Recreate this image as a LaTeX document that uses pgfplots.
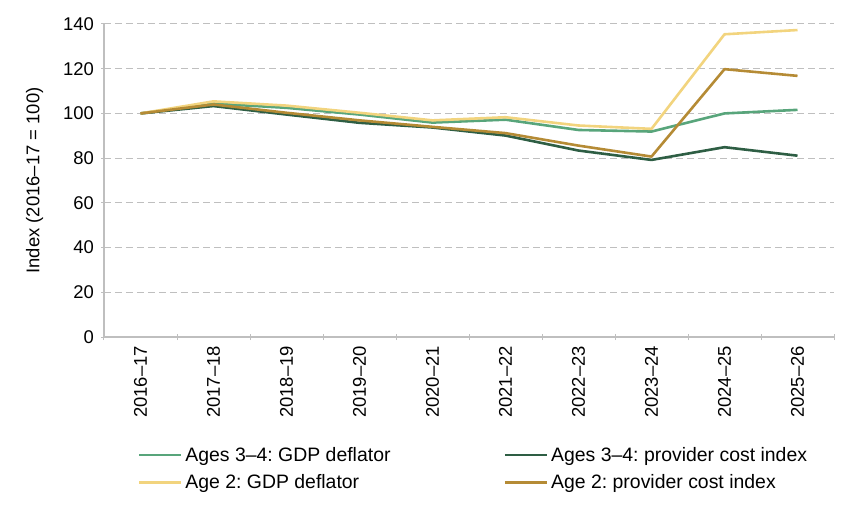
\documentclass[border=0pt]{standalone}
\usepackage{pgfplots}
\pgfplotsset{compat=1.18}
\usepackage{fontspec}
\setmainfont{Liberation Sans}
\frenchspacing
\definecolor{cgreen}{HTML}{58A57B}
\definecolor{cdark}{HTML}{2E5E44}
\definecolor{cyellow}{HTML}{F2D47E}
\definecolor{cbrown}{HTML}{B58B35}
\definecolor{cgrid}{HTML}{BFBFBF}
\begin{document}
\begin{tikzpicture}
\useasboundingbox (-104bp,-176bp) rectangle (744bp,337bp);
\begin{axis}[
  at={(0,0)}, anchor=south west,
  scale only axis, width=730bp, height=313bp,
  font=\fontsize{18.5}{21}\selectfont\frenchspacing,
  /pgf/number format/assume math mode=true,
  xmin=-0.5, xmax=9.5, ymin=0, ymax=140,
  ytick={0,20,...,140},
  xtick={0,...,9},
  xticklabels={2016--17,2017--18,2018--19,2019--20,2020--21,2021--22,2022--23,2023--24,2024--25,2025--26},
  minor xtick={-0.5,0.5,...,9.5},
  major x tick style={draw=none},
  minor tick length=6bp,
  major tick length=5bp,
  tick align=outside,
  axis x line=bottom, axis y line=left,
  axis line style={-, draw=cgrid, line width=1.2bp},
  tick style={draw=cgrid, line width=1bp},
  ymajorgrids,
  major grid style={dashed, dash pattern=on 7bp off 4bp, draw=cgrid, line width=1bp},
  xticklabel style={rotate=90, anchor=east, yshift=0bp, xshift=-3bp},
  yticklabel style={anchor=east, xshift=-4bp},
  ylabel={Index (2016--17 = 100)},
  ylabel style={at={(axis description cs:-0.095,0.5)}, anchor=center},
  legend columns=2,
  legend cell align=left,
  legend style={draw=none, fill=none, inner sep=0pt,
    at={(axis description cs:0.046,-0.345)}, anchor=north west,
    font=\fontsize{19.5}{22}\selectfont\frenchspacing,
    row sep=8bp,
    /tikz/every odd column/.append style={column sep=1bp},
    /tikz/every even column/.append style={column sep=111bp}},
  legend image code/.code={\draw[#1] (0bp,0bp) -- (42bp,0bp);},
  every axis plot/.append style={line width=2.6bp, line join=round},
]
\addplot[cgreen, mark=none] coordinates {(0,100) (1,104.4) (2,102.5) (3,99.5) (4,95.9) (5,97.2) (6,92.6) (7,91.9) (8,100) (9,101.6)};
\addlegendentry{Ages 3--4: GDP deflator}
\addplot[cdark, mark=none] coordinates {(0,100) (1,103.3) (2,99.5) (3,95.8) (4,93.7) (5,90.1) (6,83.4) (7,79.2) (8,84.9) (9,81.1)};
\addlegendentry{Ages 3--4: provider cost index}
\addplot[cyellow, mark=none] coordinates {(0,100) (1,105.4) (2,103.5) (3,100.3) (4,96.9) (5,98.3) (6,94.6) (7,93.1) (8,135.4) (9,137.3)};
\addlegendentry{Age 2: GDP deflator}
\addplot[cbrown, mark=none] coordinates {(0,100) (1,104) (2,100.3) (3,96.9) (4,94) (5,91.2) (6,85.6) (7,80.7) (8,119.8) (9,116.8)};
\addlegendentry{Age 2: provider cost index}
\end{axis}
\end{tikzpicture}
\end{document}
